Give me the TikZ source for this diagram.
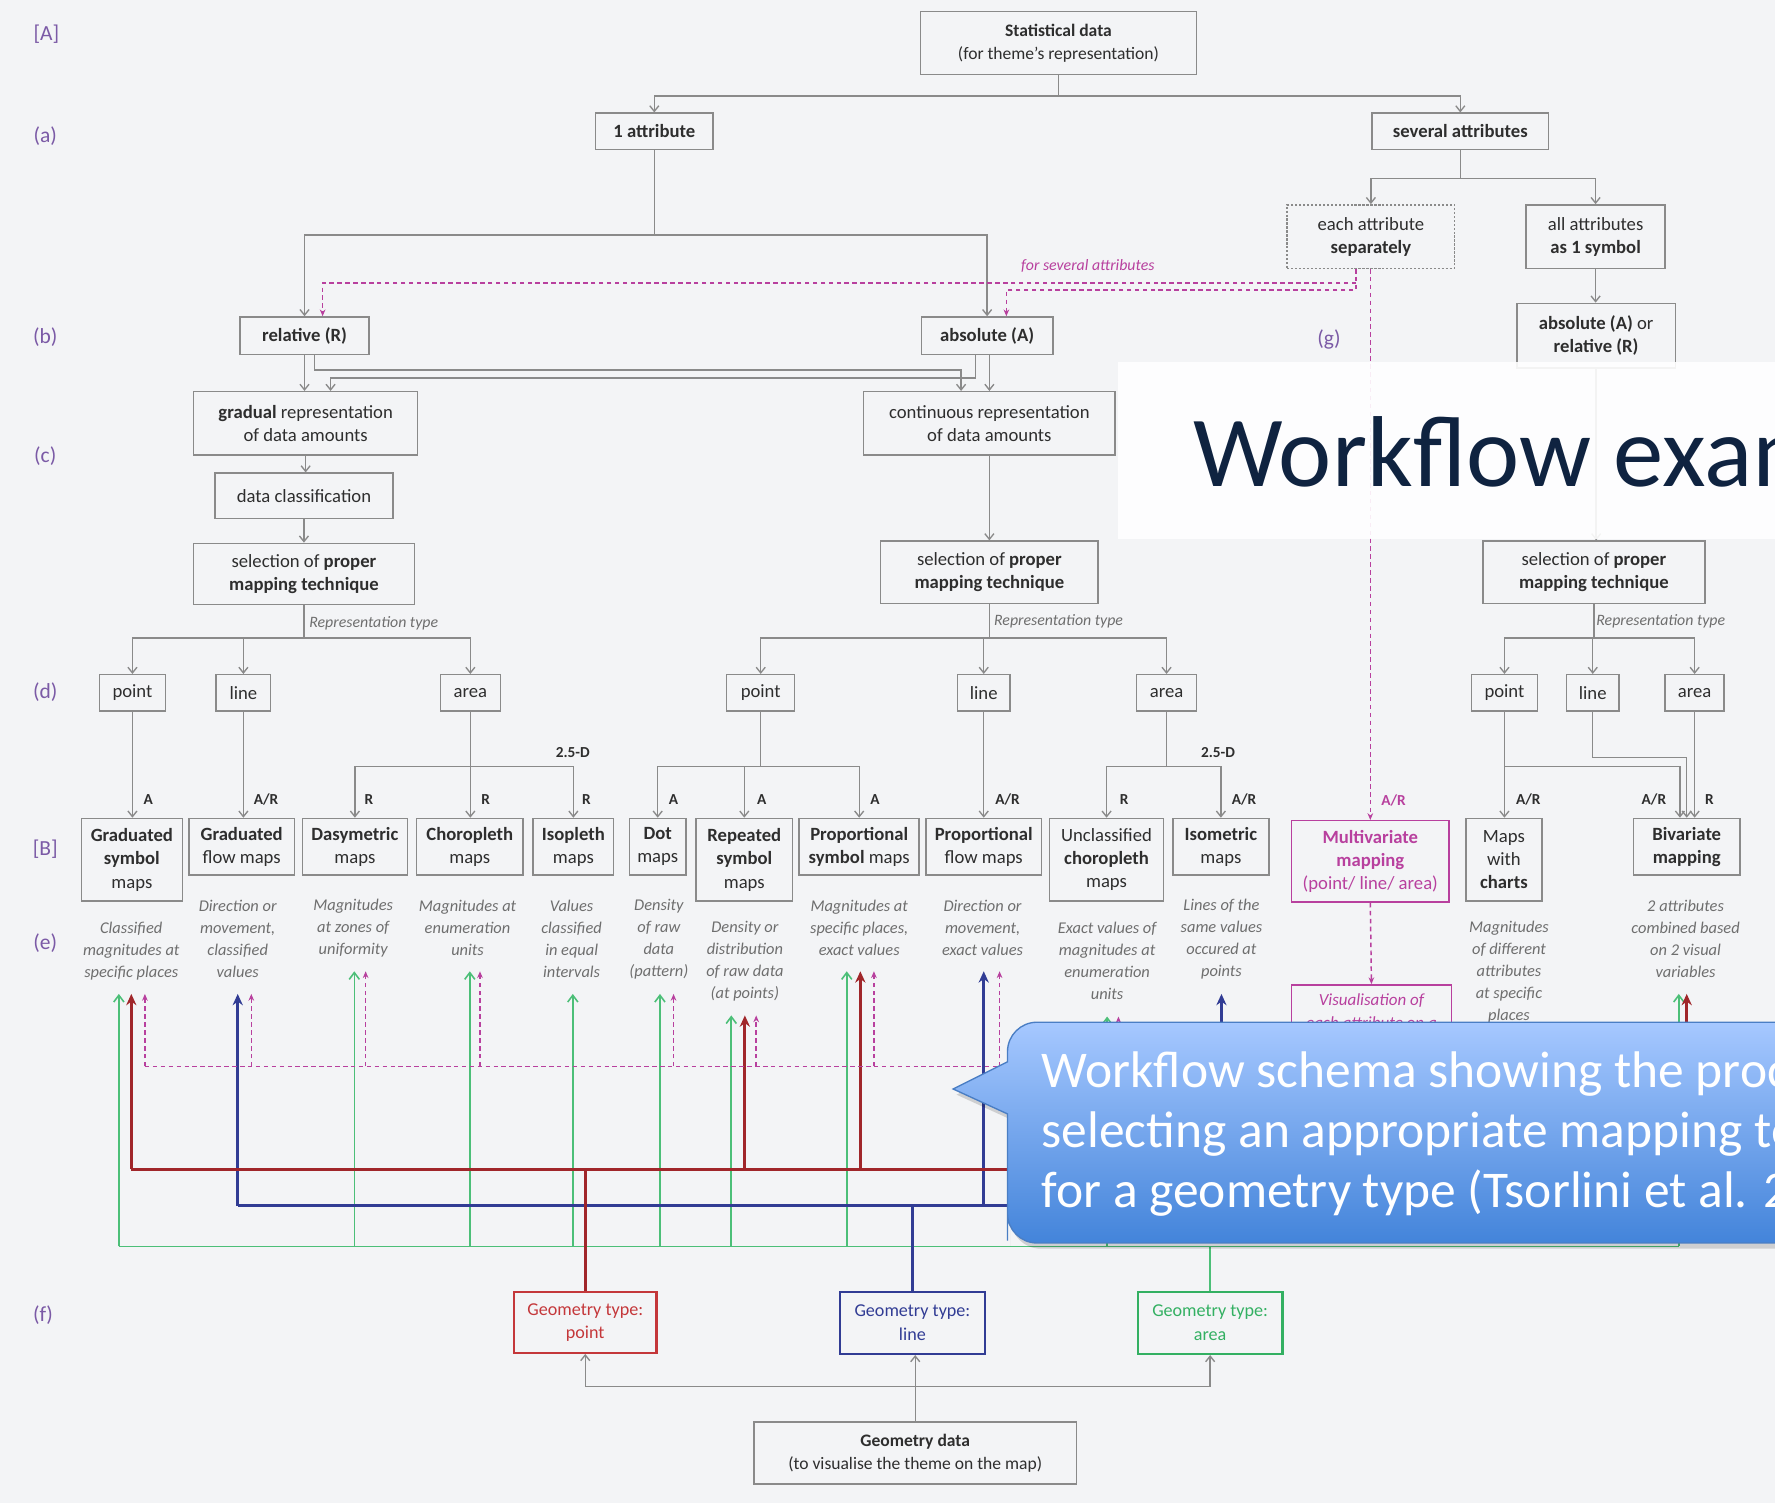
\documentclass[tikz,border=0pt]{standalone}
\usepackage{fontspec}
\setmainfont{Carlito}
\usetikzlibrary{arrows.meta}
\definecolor{bg}{HTML}{F3F4F6}
\definecolor{bx}{HTML}{8A8A8A}
\definecolor{txt}{HTML}{2E2E2E}
\definecolor{desc}{HTML}{6E6E6E}
\definecolor{lab}{HTML}{7B5AA6}
\definecolor{mag}{HTML}{B8409E}
\definecolor{redc}{HTML}{A0262A}
\definecolor{redb}{HTML}{C4373A}
\definecolor{bluec}{HTML}{313C94}
\definecolor{greenc}{HTML}{4CBF78}
\definecolor{greenb}{HTML}{33B062}
\definecolor{navy}{HTML}{0F2340}
\definecolor{callTop}{HTML}{A6C8FF}
\definecolor{callBot}{HTML}{4384DA}
\definecolor{callEdge}{HTML}{4A7EC4}
\begin{document}
\begin{tikzpicture}[x=1pt,y=-1pt,
  wh/.style 2 args={minimum width=#1pt, minimum height=#2pt},
  box/.style={draw=bx, line width=1.3pt, fill=bg, text=txt, align=center, inner sep=0pt,
    font=\fontsize{16.5}{20.5}\selectfont},
  mbox/.style={box, draw=mag, text=mag},
  geobox/.style={box, line width=2pt, font=\fontsize{16}{20.5}\selectfont},
  descr/.style={text=desc, align=center, inner sep=0pt, font=\fontsize{14.5}{19.5}\selectfont\itshape},
  rowlab/.style={text=lab, inner sep=0pt, font=\fontsize{19}{22}\selectfont},
  lbl/.style={text=txt, inner sep=0pt, font=\fontsize{13.5}{15}\selectfont\bfseries},
  rtype/.style={text=desc, inner sep=0pt, anchor=west, font=\fontsize{14}{16}\selectfont\itshape},
  gline/.style={draw=bx, line width=1.2pt},
  garr/.style={gline, -{Straight Barb[length=5pt,width=8pt]}},
  redline/.style={draw=redc, line width=2.6pt},
  redarr/.style={redline, -{Stealth[length=10pt,width=9pt]}},
  blueline/.style={draw=bluec, line width=2.6pt},
  bluearr/.style={blueline, -{Stealth[length=10pt,width=9pt]}},
  greenline/.style={draw=greenc, line width=1.4pt},
  greenarr/.style={greenline, -{Straight Barb[length=6pt,width=9pt]}},
  magline/.style={draw=mag, line width=1.3pt, dash pattern=on 4pt off 3pt},
  magarr/.style={magline, -{Stealth[length=6pt,width=5pt]}},
  callfont/.style={text=white, inner sep=0pt, anchor=base west, font=\fontsize{45.5}{53}\selectfont}
]
\useasboundingbox (0,0) rectangle (1568,1328);
\fill[bg] (0,0) rectangle (1568,1328);
\begin{scope}
\clip (0,0) rectangle (1568,1328);

% ---------- row labels ----------
\node[rowlab] (labA) at (41,30) {[A]};
\node[rowlab] (laba) at (40,120) {(a)};
\node[rowlab] (labb) at (40,298) {(b)};
\node[rowlab] (labc) at (40,403) {(c)};
\node[rowlab] (labd) at (40,611) {(d)};
\node[rowlab] (labB) at (40,750) {[B]};
\node[rowlab] (labe) at (40,833) {(e)};
\node[rowlab] (labf) at (38,1162) {(f)};
\node[rowlab] (labg) at (1174,300) {(g)};

% ---------- upper nodes ----------
\node[box, wh={244}{56}, font=\fontsize{15.5}{20}\selectfont] (stat) at (935,38) {\textbf{Statistical data}\\(for theme's representation)};
\node[box, wh={104}{32}] (attr1) at (578,116) {\textbf{1 attribute}};
\node[box, wh={156}{32}] (several) at (1290,116) {\textbf{several attributes}};
\node[box, wh={148}{56}, dash pattern=on 2pt off 1.5pt] (each) at (1211,209) {each attribute\\\textbf{separately}};
\node[box, wh={123}{56}] (allattr) at (1409.5,209) {all attributes\\\textbf{as 1 symbol}};
\node[box, wh={140}{57}] (absrel) at (1410,296.5) {\textbf{absolute (A)} or\\\textbf{relative (R)}};
\node[box, wh={114}{33}] (relative) at (269,296.5) {\textbf{relative (R)}};
\node[box, wh={116}{33}] (absolute) at (872,296.5) {\textbf{absolute (A)}};
\node[box, wh={198}{56}] (gradual) at (270,374) {\textbf{gradual} representation\\of data amounts};
\node[box, wh={222}{56}] (continuous) at (874,374) {continuous representation\\of data amounts};
\node[box, wh={157}{40}] (dataclass) at (268.5,438) {data classification};
\node[box, wh={195}{54}] (selL) at (268.5,507) {selection of \textbf{proper}\\\textbf{mapping technique}};
\node[box, wh={192}{55}] (selM) at (874,505.5) {selection of \textbf{proper}\\\textbf{mapping technique}};
\node[box, wh={196}{55}] (selR) at (1408,505.5) {selection of \textbf{proper}\\\textbf{mapping technique}};

\node[rtype] (rtL) at (273,551) {Representation type};
\node[rtype] (rtM) at (878,549) {Representation type};
\node[rtype] (rtR) at (1410,549) {Representation type};
\node[text=mag, inner sep=0pt, font=\fontsize{14}{16}\selectfont\itshape] (forsev) at (961,235) {for several attributes};

% ---------- (d) row ----------
\node[box, wh={58}{32}] (pL) at (117,612) {point};
\node[box, wh={48}{32}] (lL) at (215,612) {line};
\node[box, wh={53}{32}] (aL) at (415.5,612) {area};
\node[box, wh={60}{32}] (pM) at (672,612) {point};
\node[box, wh={46}{32}] (lM) at (869,612) {line};
\node[box, wh={53}{32}] (aM) at (1030.5,612) {area};
\node[box, wh={58}{32}] (pR) at (1329,612) {point};
\node[box, wh={46}{32}] (lR) at (1407,612) {line};
\node[box, wh={52}{32}] (aR) at (1497,612) {area};

% ---------- [B] row ----------
\node[box, wh={89}{73}] (b1) at (116.5,759.5) {\textbf{Graduated}\\\textbf{symbol}\\maps};
\node[box, wh={93}{50}] (b2) at (213.5,748) {\textbf{Graduated}\\flow maps};
\node[box, wh={93}{50}] (b3) at (313.5,748) {\textbf{Dasymetric}\\maps};
\node[box, wh={94}{50}] (b4) at (415,748) {\textbf{Choropleth}\\maps};
\node[box, wh={71}{50}] (b5) at (506.5,748) {\textbf{Isopleth}\\maps};
\node[box, wh={50}{50}] (b6) at (581,748) {\textbf{Dot}\\maps};
\node[box, wh={85}{73}] (b7) at (657.5,759.5) {\textbf{Repeated}\\\textbf{symbol}\\maps};
\node[box, wh={106}{50}] (b8) at (759,748) {\textbf{Proportional}\\\textbf{symbol} maps};
\node[box, wh={102}{50}] (b9) at (869,748) {\textbf{Proportional}\\flow maps};
\node[box, wh={101}{73}] (b10) at (977.5,759.5) {Unclassified\\\textbf{choropleth}\\maps};
\node[box, wh={85}{50}] (b11) at (1078.5,748) {\textbf{Isometric}\\maps};
\node[mbox, wh={139}{72}] (b12) at (1210.5,761) {\textbf{Multivariate}\\\textbf{mapping}\\(point/ line/ area)};
\node[box, wh={67}{73}] (b13) at (1328.5,759.5) {Maps\\with\\\textbf{charts}};
\node[box, wh={94}{50}] (b14) at (1490,748) {\textbf{Bivariate}\\\textbf{mapping}};
\node[mbox, wh={141}{46}, font=\fontsize{15}{20.5}\selectfont\itshape] (vis) at (1211.5,893) {Visualisation of\\each attribute on a};

% ---------- descriptions ----------
\node[descr] (d1) at (116,840) {Classified\\magnitudes at\\specific places};
\node[descr] (d2) at (210,829.5) {Direction or\\movement,\\classified\\values};
\node[descr] (d3) at (312,820) {Magnitudes\\at zones of\\uniformity};
\node[descr] (d4) at (413,820) {Magnitudes at\\enumeration\\units};
\node[descr] (d5) at (505,829.5) {Values\\classified\\in equal\\intervals};
\node[descr] (d6) at (582,829.5) {Density\\of raw\\data\\(pattern)};
\node[descr] (d7) at (658,849) {Density or\\distribution\\of raw data\\(at points)};
\node[descr] (d8) at (759,820) {Magnitudes at\\specific places,\\exact values};
\node[descr] (d9) at (868,820) {Direction or\\movement,\\exact values};
\node[descr] (d10) at (978,849) {Exact values of\\magnitudes at\\enumeration\\units};
\node[descr] (d11) at (1079,829.5) {Lines of the\\same values\\occured at\\points};
\node[descr] (d12) at (1333,859) {Magnitudes\\of different\\attributes\\at specific\\places};
\node[descr] (d13) at (1489,829.5) {2 attributes\\combined based\\on 2 visual\\variables};

% ---------- small labels ----------
\node[lbl] (t1) at (131,706) {A};
\node[lbl] (t2) at (235,706) {A/R};
\node[lbl] (t3) at (326,706) {R};
\node[lbl] (t4) at (429,706) {R};
\node[lbl] (t5) at (518,706) {R};
\node[lbl] (t6) at (595,706) {A};
\node[lbl] (t7) at (673,706) {A};
\node[lbl] (t8) at (773,706) {A};
\node[lbl] (t9) at (890,706) {A/R};
\node[lbl] (t10) at (993,706) {R};
\node[lbl] (t11) at (1099,706) {A/R};
\node[lbl, text=mag] (t12) at (1231,707) {A/R};
\node[lbl] (t13) at (1350,706) {A/R};
\node[lbl] (t14) at (1461,706) {A/R};
\node[lbl] (t15) at (1510,706) {R};
\node[lbl] (dd1) at (506,665) {2.5-D};
\node[lbl] (dd2) at (1076,665) {2.5-D};

% ---------- gray connectors ----------
\draw[garr] (stat.south) -- ++(0,18) -| (attr1.north);
\draw[garr] (stat.south) -- ++(0,18) -| (several.north);
\draw[garr] (attr1.south) -- ++(0,75) -| (relative.north);
\draw[garr] (attr1.south) -- ++(0,75) -| (absolute.north);
\draw[garr] (several.south) -- ++(0,25) -| (each.north);
\draw[garr] (several.south) -- ++(0,25) -| (allattr.north);
\draw[garr] (allattr.south) -- (allattr.south |- absrel.north);
\draw[garr] (absrel.south) -- (absrel.south |- selR.north);
\draw[garr] (relative.south) -- (relative.south |- gradual.north);
\draw[garr] (relative.south -| 278,0) |- (849,327) -- (continuous.north -| 849,0);
\draw[garr] (absolute.south -| 862,0) |- (292,334) -- (gradual.north -| 292,0);
\draw[garr] (absolute.south -| 874,0) -- (continuous.north -| 874,0);
\draw[garr] (gradual.south) -- (gradual.south |- dataclass.north);
\draw[garr] (dataclass.south) -- (dataclass.south |- selL.north);
\draw[garr] (continuous.south) -- (selM.north);
\draw[garr] (selL.south) -- ++(0,29) -| (pL.north);
\draw[garr] (selL.south) -- ++(0,29) -| (lL.north);
\draw[garr] (selL.south) -- ++(0,29) -| (aL.north);
\draw[garr] (selM.south) -- ++(0,30) -| (pM.north);
\draw[garr] (selM.south) -- ++(0,30) -| (lM.north);
\draw[garr] (selM.south) -- ++(0,30) -| (aM.north);
\draw[garr] (selR.south) -- ++(0,30) -| (pR.north);
\draw[garr] (selR.south) -- ++(0,30) -| (lR.north);
\draw[garr] (selR.south) -- ++(0,30) -| (aR.north);

\draw[garr] (pL.south) -- (pL.south |- b1.north);
\draw[garr] (lL.south) -- (lL.south |- b2.north);
\draw[gline] (aL.south) -- (aL.south |- 0,677);
\draw[gline] (b3.north |- 0,677) -- (b5.north |- 0,677);
\draw[garr] (b3.north |- 0,677) -- (b3.north);
\draw[garr] (aL.south |- 0,677) -- (aL.south |- b4.north);
\draw[garr] (b5.north |- 0,677) -- (b5.north);

\draw[gline] (pM.south) -- (pM.south |- 0,677);
\draw[gline] (b6.north |- 0,677) -- (b8.north |- 0,677);
\draw[garr] (b6.north |- 0,677) -- (b6.north);
\draw[garr] (b7.north |- 0,677) -- (b7.north);
\draw[garr] (b8.north |- 0,677) -- (b8.north);
\draw[garr] (lM.south) -- (lM.south |- b9.north);
\draw[gline] (aM.south) -- (aM.south |- 0,677);
\draw[gline] (b10.north |- 0,677) -- (b11.north |- 0,677);
\draw[garr] (b10.north |- 0,677) -- (b10.north);
\draw[garr] (b11.north |- 0,677) -- (b11.north);

\draw[garr] (pR.south) -- (pR.south |- b13.north);
\draw[garr] (pR.south |- 0,677) -| ([xshift=-6pt]b14.north);
\draw[garr] (lR.south) |- (b14.north |- 0,669) -- (b14.north);
\draw[garr] (aR.south) -- (aR.south |- b14.north);

% ---------- magenta dashed (several attributes) ----------
\draw[magarr] (each.south -| 1198,0) |- (889,256) -- (absolute.north -| 889,0);
\draw[magarr] (1198,250) -| (relative.north -| 285,0);
\draw[magarr] (each.south -| b12.north) -- (b12.north);
\draw[magarr] (b12.south) -- (vis.north);

% ---------- geometry ----------
\node[geobox, draw=redb, text=redb, wh={126}{54}] (gpt) at (517,1168) {Geometry type:\\point};
\node[geobox, draw=bluec, text=bluec, wh={128}{55}] (gln) at (806,1168.5) {Geometry type:\\line};
\node[geobox, draw=greenb, text=greenb, wh={128}{55}] (gar) at (1069,1168.5) {Geometry type:\\area};
\node[box, wh={285}{55}, font=\fontsize{15.5}{20}\selectfont] (gdata) at (808.5,1283.5) {\textbf{Geometry data}\\(to visualise the theme on the map)};
\draw[garr] (gdata.north) -- (gdata.north |- gln.south);
\draw[garr] (gdata.north |- 0,1225) -| (gpt.south);
\draw[garr] (gdata.north |- 0,1225) -| (gar.south);

\coordinate (redbus) at (0,1033);
\coordinate (bluebus) at (0,1065);
\coordinate (greenbus) at (0,1101);
\coordinate (magbus) at (0,942);
\coordinate (r1) at (116,878); \coordinate (r2) at (658,897);
\coordinate (r3) at (760,858); \coordinate (r4) at (1490,878);
\coordinate (u1) at (210,878); \coordinate (u2) at (869,858); \coordinate (u3) at (1079,878);
\coordinate (g1) at (105,878); \coordinate (g2) at (313,858); \coordinate (g3) at (415,858);
\coordinate (g4) at (506,878); \coordinate (g5) at (583,878); \coordinate (g6) at (646,897);
\coordinate (g7) at (748,858); \coordinate (g8) at (978,898); \coordinate (g9) at (1483,878);
\coordinate (m1) at (128,878); \coordinate (m2) at (222,878); \coordinate (m3) at (323,858);
\coordinate (m4) at (424,858); \coordinate (m5) at (595,878); \coordinate (m6) at (668,897);
\coordinate (m7) at (772,858); \coordinate (m8) at (883,858); \coordinate (m9) at (988,898);

% green (area)
\draw[greenline] (gar.north) -- (gar.north |- greenbus);
\draw[greenline] (g1 |- greenbus) -- (g9 |- greenbus);
\foreach \t in {g1,g2,g3,g4,g5,g6,g7,g8,g9} \draw[greenarr] (\t |- greenbus) -- (\t);
% blue (line)
\draw[blueline] (gln.north) -- (gln.north |- bluebus);
\draw[blueline] (u1 |- bluebus) -- (u3 |- bluebus);
\foreach \t in {u1,u2,u3} \draw[bluearr] (\t |- bluebus) -- (\t);
% red (point)
\draw[redline] (gpt.north) -- (gpt.north |- redbus);
\draw[redline] (r1 |- redbus) -- (r4 |- redbus);
\foreach \t in {r1,r2,r3,r4} \draw[redarr] (\t |- redbus) -- (\t);
% magenta (multivariate)
\draw[magline] (m1 |- magbus) -| (vis.south);
\foreach \t in {m1,m2,m3,m4,m5,m6,m7,m8,m9} \draw[magarr] (\t |- magbus) -- (\t);

% ---------- title overlay ----------
\fill[white, opacity=0.9] (988,320) rectangle (1600,476);
\node[text=navy, inner sep=0pt, anchor=base west, font=\fontsize{89}{92}\selectfont] (title) at (1054,430) {Workflow exam};

% ---------- callout ----------
\fill[black, opacity=0.15, shift={(3,5)}]
  (842,962) -- (890,938) -- (890,932) [rounded corners=26] -- (890,903) -- (1640,903) -- (1640,1098) -- (890,1098) -- (890,1070) [sharp corners] -- (890,984) -- cycle;
\shade[top color=callTop, bottom color=callBot, draw=callEdge, line width=1.2pt]
  (842,962) -- (890,938) -- (890,932) [rounded corners=26] -- (890,903) -- (1640,903) -- (1640,1098) -- (890,1098) -- (890,1070) [sharp corners] -- (890,984) -- cycle;
\node[callfont] (c1) at (920,961) {Workflow schema showing the proce};
\node[callfont] (c2) at (920,1014) {selecting an appropriate mapping tec};
\node[callfont] (c3) at (920,1067) {for a geometry type (Tsorlini et al. 20};
\end{scope}
\end{tikzpicture}
\end{document}
